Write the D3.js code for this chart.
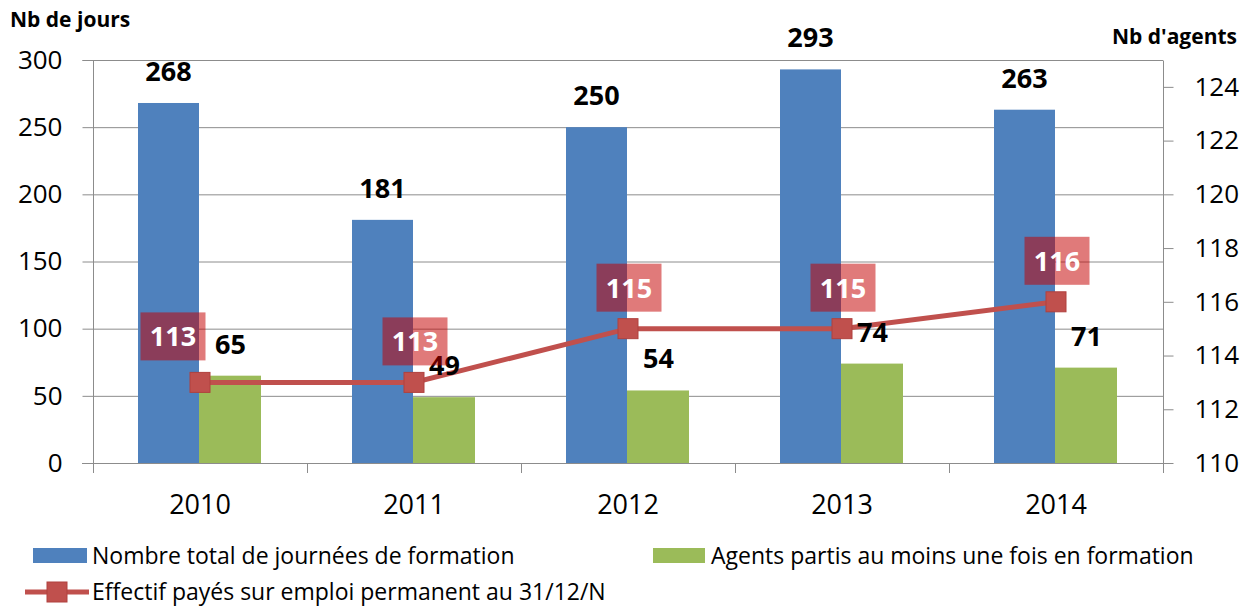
<!DOCTYPE html>
<html>
<head>
<meta charset="utf-8">
<script src="https://cdn.jsdelivr.net/npm/d3@7"></script>
<style>
	body { margin: 0; background: #fff; }
	svg text { font-family: "Open Sans", Lato, sans-serif; }
</style>
</head>
<body>
<svg id="chart" width="1252" height="607"></svg>
<script>
// chart data
var years = ["2010", "2011", "2012", "2013", "2014"];
var journees = [268, 181, 250, 293, 263];
var agents = [65, 49, 54, 74, 71];
var effectif = [113, 113, 115, 115, 116];
var leftTicks = [0, 50, 100, 150, 200, 250, 300];
var rightTicks = [110, 112, 114, 116, 118, 120, 122, 124];

var colors = {
	blue: "#4F81BD",
	green: "#9BBB59",
	red: "#C0504D",
	grid: "#8c8c8c"
};

var svg = d3.select("#chart");
var plot = { left: 93, right: 1163, top: 60, bottom: 463 };

var x = d3.scaleBand().domain(years).range([plot.left, plot.right]);
var yL = d3.scaleLinear().domain([0, 300]).range([plot.bottom, plot.top]);
var yR = d3.scaleLinear().domain([110, 125]).range([plot.bottom, plot.top]);
var barW = 61;
var cx = function(i) { return x(years[i]) + x.bandwidth() / 2; };

// gridlines
svg.append("g").selectAll("line")
	.data(leftTicks.slice(1))
	.enter().append("line")
	.attr("x1", plot.left).attr("x2", plot.right)
	.attr("y1", function(d) { return yL(d) + 0.5; })
	.attr("y2", function(d) { return yL(d) + 0.5; })
	.attr("stroke", colors.grid).attr("stroke-width", 1);

// bars
svg.append("g").selectAll("rect")
	.data(journees)
	.enter().append("rect")
	.attr("x", function(d, i) { return cx(i) - barW - 1; })
	.attr("y", function(d) { return yL(d); })
	.attr("width", barW)
	.attr("height", function(d) { return plot.bottom - yL(d); })
	.attr("fill", colors.blue);

svg.append("g").selectAll("rect")
	.data(agents)
	.enter().append("rect")
	.attr("x", function(d, i) { return cx(i) - 1; })
	.attr("y", function(d) { return yL(d); })
	.attr("width", barW + 1)
	.attr("height", function(d) { return plot.bottom - yL(d); })
	.attr("fill", colors.green);

// axes
var axisLeft = d3.axisLeft(yL).tickValues(leftTicks).tickSize(11).tickPadding(20);
var gl = svg.append("g").attr("transform", "translate(" + (plot.left + 0.5) + ",0)").call(axisLeft);
var axisRight = d3.axisRight(yR).tickValues(rightTicks).tickSize(10).tickPadding(21);
var gr = svg.append("g").attr("transform", "translate(" + (plot.right + 0.5) + ",0)").call(axisRight);
var axisBottom = d3.axisBottom(x).tickSize(0).tickPadding(31);
var gb = svg.append("g").attr("transform", "translate(0," + (plot.bottom + 0.5) + ")").call(axisBottom);

[gl, gr, gb].forEach(function(g) {
	g.select(".domain").attr("stroke", colors.grid);
	g.selectAll(".tick line").attr("stroke", colors.grid);
	g.selectAll("text").attr("fill", "#000").style("font-size", "26px");
});
gb.selectAll("text").style("font-size", "27px");
gl.select(".domain").attr("d", "M-11," + (plot.top + 0.5) + "H0V" + plot.bottom + "H0");
gr.select(".domain").attr("d", "M0," + (plot.top + 0.5) + "V" + plot.bottom);
gb.select(".domain").attr("d", "M" + (plot.left - 11) + ",0H" + (plot.right + 10));

// category boundary ticks
svg.append("g").selectAll("line")
	.data(d3.range(years.length + 1))
	.enter().append("line")
	.attr("x1", function(i) { return Math.round(plot.left + i * x.bandwidth()) + 0.5; })
	.attr("x2", function(i) { return Math.round(plot.left + i * x.bandwidth()) + 0.5; })
	.attr("y1", plot.bottom).attr("y2", plot.bottom + 10)
	.attr("stroke", colors.grid);

// line series
var line = d3.line()
	.x(function(d, i) { return cx(i); })
	.y(function(d) { return yR(d); });

svg.append("path")
	.datum(effectif)
	.attr("d", line)
	.attr("fill", "none")
	.attr("stroke", colors.red)
	.attr("stroke-width", 5);

svg.append("g").selectAll("rect")
	.data(effectif)
	.enter().append("rect")
	.attr("x", function(d, i) { return cx(i) - 10; })
	.attr("y", function(d) { return yR(d) - 10; })
	.attr("width", 20).attr("height", 20)
	.attr("fill", colors.red)
	.attr("stroke", "#b0413e").attr("stroke-width", 1);

// bar labels
var labelFont = "27px";
svg.append("g").selectAll("text")
	.data(journees)
	.enter().append("text")
	.attr("x", function(d, i) { return cx(i) - barW / 2 - 1; })
	.attr("y", function(d) { return yL(d) - 22; })
	.attr("text-anchor", "middle")
	.style("font-size", labelFont).style("font-weight", "bold")
	.text(function(d) { return d; });

svg.append("g").selectAll("text")
	.data(agents)
	.enter().append("text")
	.attr("x", function(d, i) { return cx(i) + barW / 2; })
	.attr("y", function(d) { return yL(d) - 22; })
	.attr("text-anchor", "middle")
	.style("font-size", labelFont).style("font-weight", "bold")
	.text(function(d) { return d; });

// line labels on translucent boxes
var boxes = svg.append("g").selectAll("g")
	.data(effectif)
	.enter().append("g")
	.attr("transform", function(d, i) {
		var dx = i === 0 ? -27 : 1;
		var dy = i === 0 ? -46 : -41;
		return "translate(" + (cx(i) + dx) + "," + (yR(d) + dy) + ")";
	});
boxes.append("rect")
	.attr("x", -32.5).attr("y", -24)
	.attr("width", 65).attr("height", 48)
	.attr("fill", "rgba(195,0,0,0.52)");
boxes.append("text")
	.attr("y", 10)
	.attr("text-anchor", "middle")
	.attr("fill", "#fff")
	.style("font-size", labelFont).style("font-weight", "bold")
	.text(function(d) { return d; });

// axis titles
svg.append("text").attr("x", 10).attr("y", 27)
	.style("font-size", "21px").style("font-weight", "bold")
	.text("Nb de jours");
svg.append("text").attr("x", 1237).attr("y", 44)
	.attr("text-anchor", "end")
	.style("font-size", "21px").style("font-weight", "bold")
	.text("Nb d'agents");

// legend
var legend = svg.append("g").style("font-size", "23px");
legend.append("rect").attr("x", 33).attr("y", 548).attr("width", 54).attr("height", 15).attr("fill", colors.blue);
legend.append("text").attr("x", 92).attr("y", 564).text("Nombre total de journées de formation");
legend.append("rect").attr("x", 653).attr("y", 548).attr("width", 52).attr("height", 15).attr("fill", colors.green);
legend.append("text").attr("x", 711).attr("y", 564).text("Agents partis au moins une fois en formation");
legend.append("line").attr("x1", 25).attr("x2", 89).attr("y1", 592).attr("y2", 592)
	.attr("stroke", colors.red).attr("stroke-width", 5);
legend.append("rect").attr("x", 47).attr("y", 582).attr("width", 20).attr("height", 20)
	.attr("fill", colors.red).attr("stroke", "#b0413e");
legend.append("text").attr("x", 92).attr("y", 600).text("Effectif payés sur emploi permanent au 31/12/N");
</script>
</body>
</html>
